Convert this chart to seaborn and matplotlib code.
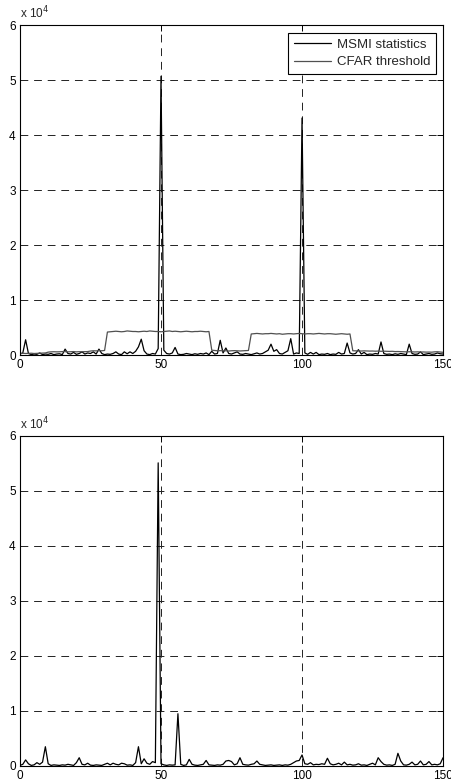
import numpy as np
import matplotlib
matplotlib.use("Agg")
import matplotlib.pyplot as plt
import matplotlib.ticker as ticker
import seaborn as sns

# sample index 0..150
idx = list(range(151))

# top panel: MSMI statistic (with signals at 50 and 100)
msmi_top = [
    200, 400, 2800, 300, 100, 200, 150, 400, 100, 200,
    150, 300, 100, 200, 250, 100, 1100, 300, 200, 500,
    150, 300, 600, 200, 400, 300, 600, 200, 1100, 300,
    100, 200, 150, 300, 600, 200, 100, 600, 250, 600,
    300, 700, 1500, 2900, 800, 200, 100, 300, 200, 1200,
    50700, 900, 300, 200, 400, 1400, 200, 100, 150, 300,
    200, 100, 250, 150, 300, 200, 400, 100, 700, 200,
    300, 2700, 400, 1300, 300, 200, 400, 600, 200, 150,
    300, 200, 100, 250, 400, 200, 300, 600, 900, 2000,
    700, 1000, 300, 200, 500, 800, 3000, 200, 400, 300,
    43100, 400, 150, 500, 200, 500, 100, 200, 150, 300,
    100, 200, 150, 500, 200, 300, 2200, 400, 200, 300,
    1000, 200, 500, 100, 200, 150, 300, 200, 2400, 300,
    150, 200, 100, 250, 150, 300, 200, 100, 2000, 300,
    150, 200, 600, 100, 200, 300, 150, 200, 400, 250,
    200,
]

# top panel: CFAR threshold
cfar_top = [
    300, 350, 300, 320, 350, 300, 330, 350, 380, 400,
    550, 600, 620, 600, 610, 650, 640, 600, 620, 650,
    600, 630, 620, 640, 650, 750, 800, 780, 820, 800,
    850, 4200, 4250, 4300, 4350, 4300, 4250, 4300, 4400, 4350,
    4300, 4300, 4250, 4300, 4350, 4300, 4400, 4350, 4300, 4300,
    4250, 4300, 4350, 4400, 4300, 4350, 4300, 4250, 4300, 4350,
    4300, 4250, 4300, 4300, 4350, 4300, 4250, 4300, 900, 850,
    800, 820, 780, 800, 750, 800, 820, 780, 760, 800,
    820, 850, 3850, 3900, 3950, 3900, 3850, 3900, 3900, 3950,
    3900, 3850, 3900, 3800, 3850, 3900, 3900, 3850, 3900, 3950,
    3900, 3850, 3900, 3900, 3850, 3900, 3950, 3900, 3850, 3900,
    3900, 3850, 3800, 3850, 3900, 3850, 3800, 3850, 800, 780,
    760, 750, 780, 760, 740, 750, 720, 740, 700, 720,
    700, 680, 700, 650, 660, 640, 620, 600, 620, 600,
    580, 600, 560, 580, 550, 560, 540, 600, 620, 580,
    520,
]

# bottom panel: MSMI statistic (single target)
msmi_bot = [
    100, 300, 1100, 400, 100, 200, 600, 300, 700, 3500,
    400, 100, 200, 150, 100, 200, 150, 300, 200, 100,
    600, 1500, 300, 200, 500, 150, 100, 200, 150, 100,
    300, 500, 200, 500, 300, 200, 500, 400, 150, 200,
    100, 600, 3500, 400, 1300, 500, 300, 800, 600, 55100,
    400, 200, 100, 200, 150, 200, 9500, 300, 100, 200,
    1200, 300, 150, 100, 200, 300, 1000, 200, 150, 100,
    200, 150, 300, 900, 1000, 800, 200, 400, 1500, 300,
    200, 150, 300, 400, 900, 300, 200, 100, 150, 200,
    100, 150, 200, 100, 200, 150, 300, 600, 900, 1000,
    2000, 400, 300, 600, 200, 300, 250, 400, 300, 1400,
    400, 200, 300, 500, 200, 700, 200, 300, 150, 200,
    400, 150, 200, 100, 300, 500, 200, 1500, 800, 300,
    150, 200, 100, 300, 2300, 900, 200, 150, 300, 700,
    200, 300, 900, 200, 300, 800, 200, 300, 200, 400,
    1500,
]

sns.set_style("white")
plt.rcParams['font.family'] = ['Liberation Sans', 'DejaVu Sans']

fig = plt.figure(figsize=(4.52, 7.84), dpi=100)
ax1 = fig.add_axes([0.0442, 0.547, 0.936, 0.421])
ax2 = fig.add_axes([0.0442, 0.023, 0.936, 0.421])

sns.lineplot(x=idx, y=msmi_top, ax=ax1, color='black', lw=0.9,
             label='MSMI statistics')
sns.lineplot(x=idx, y=cfar_top, ax=ax1, color='#505050', lw=0.9,
             label='CFAR threshold')
sns.lineplot(x=idx, y=msmi_bot, ax=ax2, color='black', lw=0.9, legend=False)

leg = ax1.legend(loc='upper right', bbox_to_anchor=(0.9835, 0.977),
                 borderaxespad=0, fontsize=9.5, frameon=True, fancybox=False,
                 edgecolor='black', framealpha=1,
                 handlelength=2.75, handletextpad=0.45, borderpad=0.45,
                 labelspacing=0.4)
leg.get_frame().set_linewidth(0.8)

for ax in (ax1, ax2):
    ax.set_xlim(0, 150)
    ax.set_ylim(0, 60000)
    ax.set_xticks([0, 50, 100, 150])
    ax.set_yticks([0, 10000, 20000, 30000, 40000, 50000, 60000])
    ax.yaxis.set_major_formatter(ticker.FuncFormatter(lambda v, p: f"{v / 1e4:.0f}"))
    ax.grid(True, color='#222222', linestyle=(0, (8, 6)), lw=0.7)
    ax.tick_params(direction='in', length=4, width=0.7, top=True, right=True,
                   labelsize=8.5, pad=3, colors='black')
    for s in ax.spines.values():
        s.set_color('black')
        s.set_linewidth(0.8)
    ax.text(0.0, 1.01, r'x 10$^{4}$', transform=ax.transAxes,
            ha='left', va='bottom', fontsize=8.5)
    ax.set_xlabel('')
    ax.set_ylabel('')

fig.savefig("out.png", dpi=100)
